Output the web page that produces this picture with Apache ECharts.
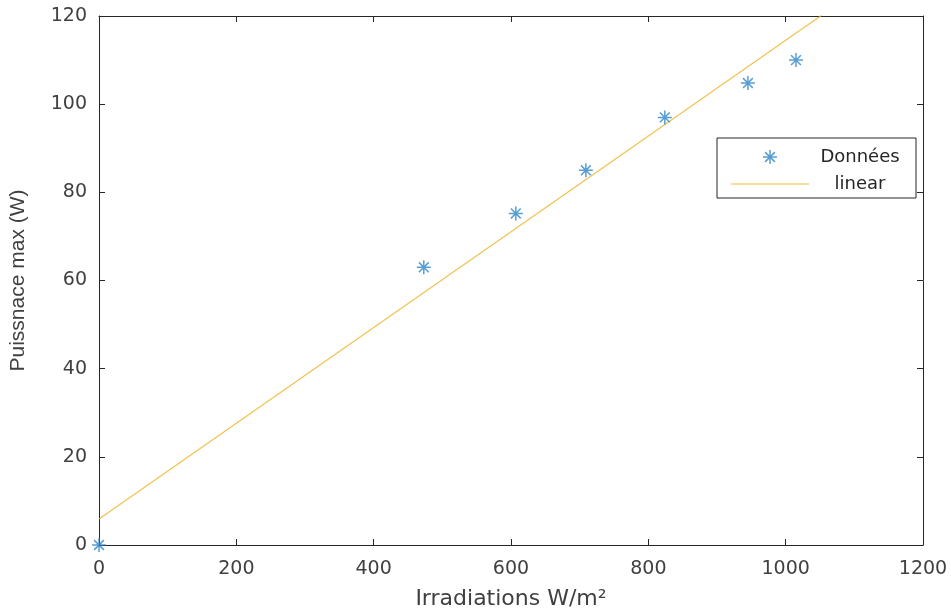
<!DOCTYPE html>
<html>
<head>
<meta charset="utf-8">
<script src="https://cdn.jsdelivr.net/npm/echarts@6/dist/echarts.min.js"></script>
<style>html,body{margin:0;padding:0;background:#fff}#c{width:951px;height:613px}</style>
</head>
<body>
<div id="c"></div>
<script>
var irradiations = [0, 473, 607, 709, 824, 945, 1015];
var puissance = [0, 63, 75.2, 85, 97, 104.8, 110];
var fitX = [0, 1200];
var fitY = [5.9, 136.2];
var xTicks = [0, 200, 400, 600, 800, 1000, 1200];
var yTicks = [0, 20, 40, 60, 80, 100, 120];

var star = 'path://M0,-10L0,10M-10,0L10,0M-7,-7L7,7M-7,7L7,-7';
var wideFont = 'DejaVu Sans, Verdana, sans-serif';
var fontFam = 'Liberation Sans, Arial, sans-serif';
var txtCol = '#404040';

var chart = echarts.init(document.getElementById('c'));
function baseAxis(extra) {
  return Object.assign({
    type: 'value',
    axisLine: {show: true, onZero: false, lineStyle: {color: '#262626', width: 1}},
    axisTick: {show: true, inside: true, length: 6, lineStyle: {color: '#262626'}},
    splitLine: {show: false}
  }, extra);
}
function plain(v) { return String(v); }
chart.setOption({
  animation: false,
  grid: {left: 99, top: 16, right: 28, bottom: 68, containLabel: false, outerBoundsMode: 'none'},
  xAxis: [
    baseAxis({min: xTicks[0], max: xTicks[xTicks.length-1], interval: 200,
      name: 'Irradiations W/m²', nameLocation: 'middle', nameGap: 43,
      nameTextStyle: {fontFamily: wideFont, fontSize: 22, color: txtCol},
      axisLabel: {fontFamily: wideFont, fontSize: 19, color: txtCol, margin: 15, formatter: plain}}),
    baseAxis({position: 'top', min: 0, max: 1200, interval: 200, axisLabel: {show: false}})
  ],
  yAxis: [
    baseAxis({min: yTicks[0], max: yTicks[yTicks.length-1], interval: 20,
      name: 'Puissnace max (W)', nameLocation: 'middle', nameGap: 70,
      nameTextStyle: {fontFamily: fontFam, fontSize: 21, color: txtCol},
      axisLabel: {fontFamily: wideFont, fontSize: 19, color: txtCol, margin: 12, formatter: plain}}),
    baseAxis({position: 'right', min: 0, max: 120, interval: 20, axisLabel: {show: false}})
  ],
  legend: {
    left: 717, top: 138, orient: 'vertical',
    borderColor: '#262626', borderWidth: 1, borderRadius: 0,
    padding: [10, 10, 5, 14], itemGap: 9, itemWidth: 78, itemHeight: 14,
    backgroundColor: '#fff',
    formatter: '{a|{name}}',
    textStyle: {fontFamily: wideFont, fontSize: 18, color: '#262626',
      rich: {a: {width: 92, align: 'center', lineHeight: 20, fontFamily: wideFont, fontSize: 18, color: '#262626'}}},
    data: [
      {name: 'Données', icon: star, itemStyle: {color: 'transparent', borderColor: '#2E86C8', borderWidth: 1.5}},
      {name: 'linear', icon: 'path://M0,0L100,0L100,1.6L0,1.6Z', itemStyle: {color: '#EDB120', opacity: 0.85}}
    ]
  },
  series: [
    {
      name: 'Données', type: 'scatter',
      data: irradiations.map(function (x, i) { return [x, puissance[i]]; }),
      symbol: star, symbolSize: 14, clip: false,
      itemStyle: {color: 'transparent', borderColor: '#2E86C8', borderWidth: 1.5},
      z: 5
    },
    {
      name: 'linear', type: 'line', showSymbol: false, symbol: 'none',
      data: fitX.map(function (x, i) { return [x, fitY[i]]; }),
      lineStyle: {color: '#EDB120', width: 1.2, opacity: 0.8},
      itemStyle: {color: '#EDB120'},
      clip: true
    }
  ]
});
</script>
</body>
</html>
